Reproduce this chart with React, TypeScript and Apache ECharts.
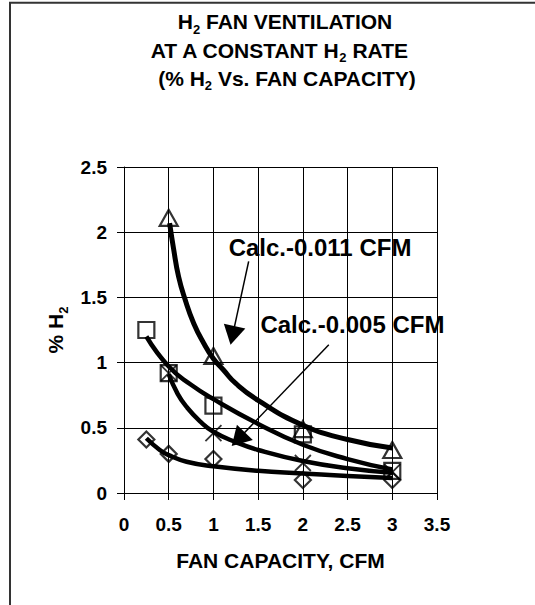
import React, { useEffect, useRef } from "react";
import * as echarts from "echarts";

const FONT = '"Liberation Sans", Arial, Helvetica, sans-serif';

// Axis ranges
const X_MIN = 0, X_MAX = 3.5, X_STEP = 0.5;
const Y_MIN = 0, Y_MAX = 2.5, Y_STEP = 0.5;

// Title lines (rich text: {s|2} is the subscript)
const titleLines = [
  "H{s|2} FAN VENTILATION",
  "AT A CONSTANT H{s|2} RATE",
  "(% H{s|2} Vs. FAN CAPACITY)",
];
const xAxisName = "FAN CAPACITY, CFM";
const yAxisName = "% H{s|2}";

// Measured points
const triangleX = [0.5, 1, 2, 3];
const triangleY = [2.11, 1.05, 0.49, 0.33];
const squareX = [0.25, 0.5, 1, 2, 3];
const squareY = [1.25, 0.92, 0.67, 0.45, 0.17];
const crossX = [0.5, 1, 2, 3];
const crossY = [0.92, 0.46, 0.23, 0.16];
const diamondX = [0.25, 0.5, 1, 2, 3];
const diamondY = [0.41, 0.3, 0.26, 0.1, 0.1];

// Calculated curves
const curveAX = [0.51, 0.555, 0.61, 0.685, 0.78, 0.89, 1.0, 1.11, 1.25, 1.5, 2.0, 2.5, 3.0];
const curveAY = [2.07, 1.87, 1.66, 1.48, 1.3, 1.15, 1.03, 0.945, 0.84, 0.71, 0.52, 0.41, 0.345];
const curveBX = [0.25, 0.5, 0.75, 1.0, 1.5, 2.0, 2.5, 3.0];
const curveBY = [1.2, 0.97, 0.83, 0.72, 0.53, 0.37, 0.26, 0.18];
const curveCX = [0.5, 0.6, 0.7, 0.85, 1.0, 1.25, 1.5, 2.0, 2.5, 3.0];
const curveCY = [0.91, 0.76, 0.66, 0.55, 0.47, 0.39, 0.33, 0.245, 0.19, 0.155];
const curveDX = [0.25, 0.4, 0.5, 0.7, 1.0, 1.5, 2.0, 2.5, 3.0];
const curveDY = [0.42, 0.33, 0.29, 0.24, 0.205, 0.17, 0.15, 0.13, 0.115];

// Annotations (data coordinates)
const noteText = ["Calc.-0.011 CFM", "Calc.-0.005 CFM"];
const notePos = [
  [1.17, 1.88],
  [1.525, 1.294],
];
const arrowFrom = [
  [1.394, 1.776],
  [2.29, 1.137],
];
const arrowTo = [
  [1.214, 1.209],
  [1.278, 0.413],
];

const zip = (xs: number[], ys: number[]) => xs.map((x, i) => [x, ys[i]]);

const subRich = (size: number) => ({
  s: { fontSize: Math.round(size * 0.62), fontWeight: "bold", fontFamily: FONT, color: "#000", fill: "#000", lineHeight: 16, verticalAlign: "bottom" },
});

export default function App() {
  const ref = useRef<HTMLDivElement>(null);
  useEffect(() => {
    if (!ref.current) return;
    const chart = echarts.init(ref.current, undefined, { renderer: "svg" });

    const markerStyle = { color: "rgba(0,0,0,0)", borderColor: "#000", borderWidth: 2.2 };
    const curveSeries = (name: string, xs: number[], ys: number[], w: number) => ({
      name,
      type: "line",
      data: zip(xs, ys),
      smooth: true,
      showSymbol: false,
      symbol: "none",
      lineStyle: { color: "#000", width: w },
      z: 3,
      silent: true,
    });
    const markerSeries = (name: string, xs: number[], ys: number[], symbol: string, size: any, bw = 2.2) => ({
      name,
      type: "scatter",
      data: zip(xs, ys),
      symbol,
      symbolSize: size,
      itemStyle: { ...markerStyle, borderWidth: bw },
      z: 4,
      silent: true,
    });

    const titleY = [21.7, 50, 78.3];
    const titleCx = [285, 279, 287];

    const baseGraphics: any[] = [
      {
        type: "rect",
        shape: { x: 10, y: 2.7, width: 600, height: 700 },
        style: { fill: "none", stroke: "#333", lineWidth: 2 },
        silent: true,
      },
      ...titleLines.map((t, i) => ({
        type: "text",
        x: titleCx[i],
        y: titleY[i],
        style: {
          text: t,
          fontSize: 21,
          fontWeight: "bold",
          fontFamily: FONT,
          fill: "#000",
          align: "center",
          verticalAlign: "middle",
          lineHeight: 28,
          rich: subRich(21),
        },
        silent: true,
      })),
    ];

    chart.setOption({
      animation: false,
      backgroundColor: "#fff",
      textStyle: { fontFamily: FONT },
      grid: { left: 124, top: 167, width: 313, height: 326, containLabel: false, outerBoundsMode: "none" },
      graphic: baseGraphics,
      xAxis: {
        type: "value",
        min: X_MIN,
        max: X_MAX,
        interval: X_STEP,
        name: xAxisName,
        nameLocation: "middle",
        nameGap: 57,
        nameTextStyle: { fontSize: 21, fontWeight: "bold", color: "#000", fontFamily: FONT },
        axisLine: { show: true, onZero: false, lineStyle: { color: "#000", width: 1 } },
        axisTick: { show: true, inside: false, length: 7, lineStyle: { color: "#000", width: 1 } },
        axisLabel: { fontSize: 19, fontWeight: "bold", color: "#000", fontFamily: FONT, margin: 22, showMinLabel: true, showMaxLabel: true },
        splitLine: { show: true, lineStyle: { color: "#000", width: 1 } },
      },
      yAxis: {
        type: "value",
        min: Y_MIN,
        max: Y_MAX,
        interval: Y_STEP,
        name: yAxisName,
        nameLocation: "middle",
        nameRotate: 90,
        nameGap: 52,
        nameTextStyle: { fontSize: 21, fontWeight: "bold", color: "#000", fontFamily: FONT, lineHeight: 28, rich: subRich(21) },
        axisLine: { show: true, onZero: false, lineStyle: { color: "#000", width: 1 } },
        axisTick: { show: true, inside: false, length: 7, lineStyle: { color: "#000", width: 1 } },
        axisLabel: { fontSize: 19, fontWeight: "bold", color: "#000", fontFamily: FONT, margin: 17 },
        splitLine: { show: true, lineStyle: { color: "#000", width: 1 } },
      },
      series: [
        markerSeries("triangles", triangleX, triangleY, "triangle", [18, 16]),
        markerSeries("squares", squareX, squareY, "rect", [16, 16]),
        markerSeries("crosses", crossX, crossY, "path://M0 0L16 16M16 0L0 16", [16, 16], 1.8),
        markerSeries("diamonds", diamondX, diamondY, "diamond", [16, 16]),
        curveSeries("calcA", curveAX, curveAY, 5),
        curveSeries("calcB", curveBX, curveBY, 4.5),
        curveSeries("calcC", curveCX, curveCY, 4.5),
        curveSeries("calcD", curveDX, curveDY, 4.5),
        {
          name: "arrows",
          type: "scatter",
          data: [],
          z: 5,
          silent: true,
          markLine: {
            silent: true,
            symbol: ["none", "triangle"],
            symbolSize: [22, 19],
            label: { show: false },
            lineStyle: { color: "#000", width: 1.5, type: "solid" },
            itemStyle: { color: "#000" },
            data: arrowFrom.map((f, i) => [{ coord: f }, { coord: arrowTo[i] }]),
          },
        },
      ],
    });

    const noteGraphics = notePos.map((p, i) => {
      const px = chart.convertToPixel({ gridIndex: 0 }, p) as number[];
      return {
        type: "text",
        x: px[0],
        y: px[1],
        z: 10,
        style: {
          text: noteText[i],
          fontSize: 24,
          fontWeight: "bold",
          fontFamily: FONT,
          fill: "#000",
          align: "left",
          verticalAlign: "middle",
        },
        silent: true,
      };
    });
    chart.setOption({ graphic: [...baseGraphics, ...noteGraphics] }, { replaceMerge: ["graphic"] });

    return () => chart.dispose();
  }, []);
  return <div ref={ref} style={{ position: "absolute", left: 0, top: 0, width: 535, height: 605 }} />;
}
